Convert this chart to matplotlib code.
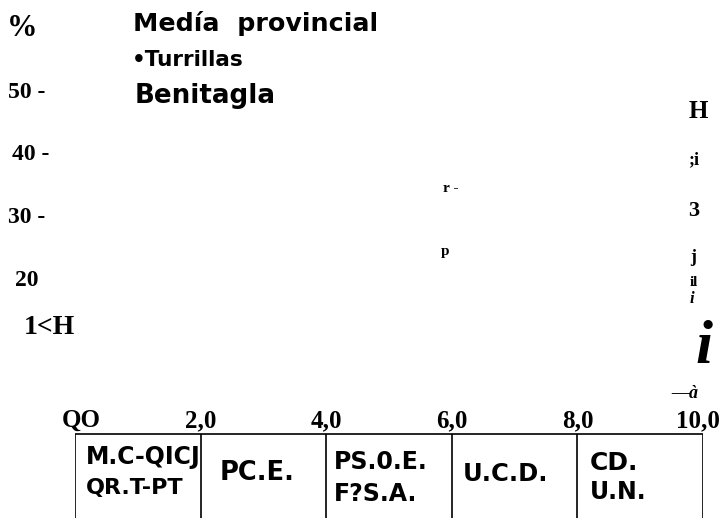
import matplotlib.pyplot as plt
from matplotlib import transforms

# canvas of the scanned chart, in pixels
W, H = 721, 518

# ---- values ----
x_ticks = [0, 2, 4, 6, 8, 10]
x_tick_labels = ["QO", "2,0", "4,0", "6,0", "8,0", "10,0"]
y_ticks = [50, 40, 30, 20]
y_tick_labels = ["50 -", "40 -", "30 -", "20"]
legend_labels = ["Medía  provincial", "•Turrillas", "Benitagla"]
party_labels = [["M.C-QICJ", "QR.T-PT"], ["PC.E."], ["PS.0.E.", "F?S.A."],
                ["U.C.D."], ["CD.", "U.N."]]

# ---- layout (pixels) ----
px_per_unit = 6.267          # vertical scale: 50 -> y=92, 20 -> y=280
y_top = 50 + 92 / px_per_unit
y_bot = 50 - (H - 92) / px_per_unit
table_top = 50 - (434 - 92) / px_per_unit
tick_base = 50 - (427 - 92) / px_per_unit

SERIF = "Liberation Serif"
SANS = "DejaVu Sans"

fig = plt.figure(figsize=(W / 100, H / 100), dpi=100)
ax = fig.add_axes([75 / W, 0, 628 / W, 1])
ax.set_xlim(0, 10)
ax.set_ylim(y_bot, y_top)
ax.axis("off")

# x axis labels sitting on the table
for i, (xv, lab) in enumerate(zip(x_ticks, x_tick_labels)):
    ha = "right" if i == len(x_ticks) - 1 else "center"
    dx = 17 if i == len(x_ticks) - 1 else (6 if i == 0 else 0)
    ax.annotate(lab, (xv, tick_base), xytext=(dx * 0.72, 0), textcoords="offset points",
                ha=ha, va="baseline", fontsize=18, fontweight="bold", family=SERIF)

# y labels (left margin)
blend = transforms.blended_transform_factory(fig.transFigure, ax.transData)
y_lab_x = [8, 12, 8, 15]
for yv, lab, xp in zip(y_ticks, y_tick_labels, y_lab_x):
    ax.text(xp / W, yv, lab, transform=blend, ha="left", va="center",
            fontsize=17, fontweight="bold", family=SERIF)

# table of parties under the axis
ax.hlines(table_top, x_ticks[0], x_ticks[-1], color="black", lw=1.2)
ax.vlines(x_ticks, y_bot, table_top, color="black", lw=1.2)

cell_x = [86, 220, 334, 463, 590]
cell_base = [[464, 494], [480], [469, 501], [481], [470, 499]]
cell_size = [[17, 16], [18.5], [17, 17], [17.5], [18, 17]]
for lines, xp, bases, sizes in zip(party_labels, cell_x, cell_base, cell_size):
    for txt, yb, fs in zip(lines, bases, sizes):
        fig.text(xp / W, 1 - yb / H, txt, ha="left", va="baseline",
                 fontsize=fs, fontweight="bold", family=SANS)

# legend block at the top
leg_x = [133, 132, 135]
leg_base = [31, 66, 103]
leg_size = [18.3, 15.5, 18.8]
for txt, xp, yb, fs in zip(legend_labels, leg_x, leg_base, leg_size):
    fig.text(xp / W, 1 - yb / H, txt, ha="left", va="baseline",
             fontsize=fs, fontweight="bold", family=SANS)

# leftover scan fragments (text, centre x, centre y, size, style)
fragments = [
    ("%", 22, 28, 22, "normal"),
    ("1<H", 49, 328, 20, "normal"),
    ("r -", 451, 189, 11, "normal"),
    ("p", 445, 252, 11, "normal"),
    ("H", 698, 112, 18, "normal"),
    (";i", 694, 160, 13, "normal"),
    ("3", 694, 211, 16, "normal"),
    ("j", 693, 258, 13, "normal"),
    ("il", 694, 282, 11, "normal"),
    ("i", 692, 299, 12, "italic"),
    ("i", 704, 348, 44, "italic"),
    ("—à", 685, 394, 13, "italic"),
]
for txt, xp, yp, fs, st in fragments:
    fig.text(xp / W, 1 - yp / H, txt, ha="center", va="center",
             fontsize=fs, fontweight="bold", fontstyle=st, family=SERIF)

fig.savefig("out.png", dpi=100)
